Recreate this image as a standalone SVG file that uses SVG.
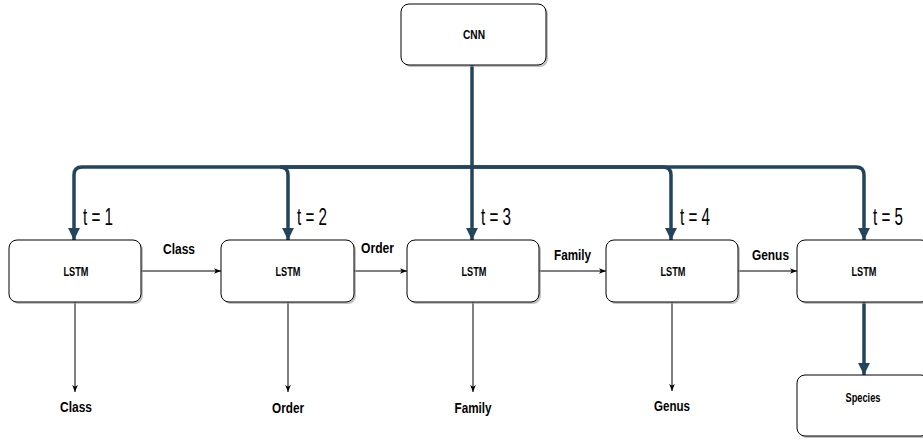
<svg xmlns="http://www.w3.org/2000/svg" width="923" height="441" viewBox="0 0 923 441">
<style>
.box{fill:#fff;stroke:#000;stroke-width:1}
.shadow{fill:#999;opacity:0.6}
.lbl{font-family:"Liberation Sans",Arial,sans-serif;font-weight:bold;font-size:13px;text-anchor:middle}
.elbl{font-family:"Liberation Sans",Arial,sans-serif;font-weight:bold;font-size:15px}
.tl{font-family:"Liberation Sans",Arial,sans-serif;font-size:24px}
.thick{fill:none;stroke:#23445D;stroke-width:3.5}
.thin{fill:none;stroke:#000;stroke-width:1}
</style>
<defs>
<marker id="big" viewBox="0 0 10 10" refX="10" refY="5" markerWidth="3.4" markerHeight="3.4" markerUnits="strokeWidth" orient="auto">
<path d="M0,0 L10,5 L0,10 Z" fill="#23445D"/>
</marker>
<marker id="small" viewBox="0 0 10 10" refX="10" refY="5" markerWidth="7" markerHeight="7" markerUnits="userSpaceOnUse" orient="auto">
<path d="M0,1 L10,5 L0,9 L2.5,5 Z" fill="#000"/>
</marker>
</defs>
<g id="connectors">
<path class="thick" d="M472,65 V167"/>
<path class="thick" d="M472,167 H82 Q74,167 74,175 V240" marker-end="url(#big)"/>
<path class="thick" d="M472,167 H280 Q288,167 288,175 V240" marker-end="url(#big)"/>
<path class="thick" d="M472,167 V240" marker-end="url(#big)"/>
<path class="thick" d="M472,167 H663 Q671,167 671,175 V240" marker-end="url(#big)"/>
<path class="thick" d="M472,167 H856 Q864,167 864,175 V240" marker-end="url(#big)"/>
<path class="thick" d="M864,302 V375" marker-end="url(#big)"/>
<path class="thin" d="M141,271 H221" marker-end="url(#small)"/>
<path class="thin" d="M354,271 H407" marker-end="url(#small)"/>
<path class="thin" d="M539,271 H606" marker-end="url(#small)"/>
<path class="thin" d="M738,271 H797" marker-end="url(#small)"/>
<path class="thin" d="M75,302 V392" marker-end="url(#small)"/>
<path class="thin" d="M288,302 V392" marker-end="url(#small)"/>
<path class="thin" d="M473,302 V392" marker-end="url(#small)"/>
<path class="thin" d="M672,302 V391" marker-end="url(#small)"/>
<text class="elbl" x="163" y="254" textLength="32" lengthAdjust="spacingAndGlyphs">Class</text>
<text class="elbl" x="361" y="253" textLength="33" lengthAdjust="spacingAndGlyphs">Order</text>
<text class="elbl" x="554" y="260" textLength="37" lengthAdjust="spacingAndGlyphs">Family</text>
<text class="elbl" x="752" y="260" textLength="37" lengthAdjust="spacingAndGlyphs">Genus</text>
<text class="tl" x="83" y="225" textLength="30" lengthAdjust="spacingAndGlyphs">t = 1</text>
<text class="tl" x="297" y="225" textLength="30" lengthAdjust="spacingAndGlyphs">t = 2</text>
<text class="tl" x="481" y="225" textLength="30" lengthAdjust="spacingAndGlyphs">t = 3</text>
<text class="tl" x="680" y="225" textLength="30" lengthAdjust="spacingAndGlyphs">t = 4</text>
<text class="tl" x="873" y="225" textLength="30" lengthAdjust="spacingAndGlyphs">t = 5</text>
</g>
<g id="cnn">
<rect class="shadow" x="403" y="6" width="145" height="61" rx="8"/>
<rect class="box" x="401" y="4" width="145" height="61" rx="8"/>
<text class="lbl" x="474" y="39" textLength="22" lengthAdjust="spacingAndGlyphs">CNN</text>
</g>
<g id="lstm1">
<rect class="shadow" x="11" y="242" width="132" height="62" rx="8"/>
<rect class="box" x="9" y="240" width="132" height="62" rx="8"/>
<text class="lbl" x="76" y="276" textLength="25" lengthAdjust="spacingAndGlyphs">LSTM</text>
</g>
<g id="lstm2">
<rect class="shadow" x="223" y="242" width="133" height="62" rx="8"/>
<rect class="box" x="221" y="240" width="133" height="62" rx="8"/>
<text class="lbl" x="288" y="276" textLength="25" lengthAdjust="spacingAndGlyphs">LSTM</text>
</g>
<g id="lstm3">
<rect class="shadow" x="409" y="242" width="132" height="62" rx="8"/>
<rect class="box" x="407" y="240" width="132" height="62" rx="8"/>
<text class="lbl" x="474" y="276" textLength="25" lengthAdjust="spacingAndGlyphs">LSTM</text>
</g>
<g id="lstm4">
<rect class="shadow" x="608" y="242" width="132" height="62" rx="8"/>
<rect class="box" x="606" y="240" width="132" height="62" rx="8"/>
<text class="lbl" x="673" y="276" textLength="25" lengthAdjust="spacingAndGlyphs">LSTM</text>
</g>
<g id="lstm5">
<rect class="shadow" x="799" y="242" width="132" height="62" rx="8"/>
<rect class="box" x="797" y="240" width="132" height="62" rx="8"/>
<text class="lbl" x="864" y="276" textLength="25" lengthAdjust="spacingAndGlyphs">LSTM</text>
</g>
<g id="species">
<rect class="shadow" x="799" y="377" width="132" height="61" rx="8"/>
<rect class="box" x="797" y="375" width="132" height="61" rx="8"/>
<text class="lbl" x="863" y="402" textLength="35" lengthAdjust="spacingAndGlyphs">Species</text>
</g>
<g id="outputs">
<text class="elbl" x="76" y="412" text-anchor="middle" textLength="32" lengthAdjust="spacingAndGlyphs">Class</text>
<text class="elbl" x="288" y="413" text-anchor="middle" textLength="32" lengthAdjust="spacingAndGlyphs">Order</text>
<text class="elbl" x="473" y="413" text-anchor="middle" textLength="37" lengthAdjust="spacingAndGlyphs">Family</text>
<text class="elbl" x="672" y="411" text-anchor="middle" textLength="36" lengthAdjust="spacingAndGlyphs">Genus</text>
</g>
</svg>
